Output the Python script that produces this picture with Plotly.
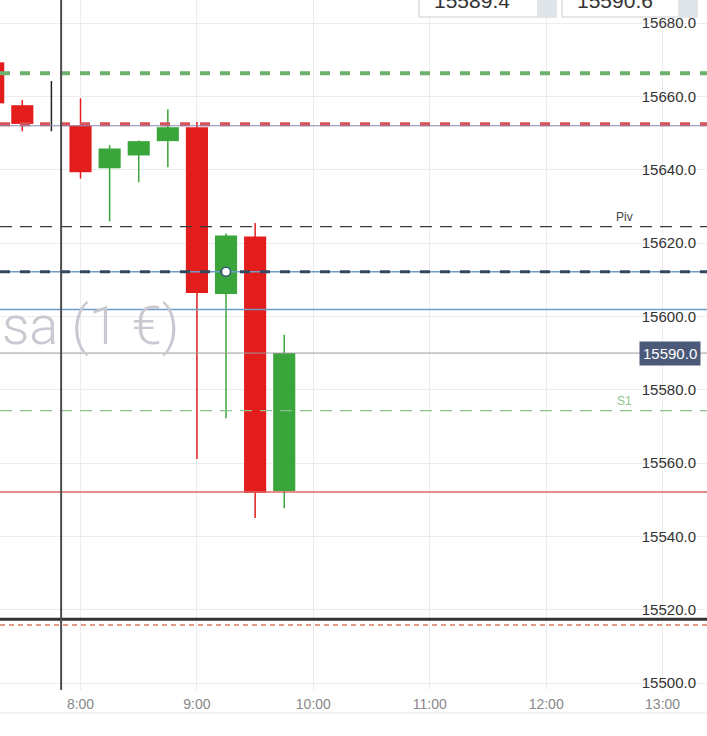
import plotly.graph_objects as go
import pandas as pd

# ---------------- data ----------------
day = "2021-07-20 "
candle_times = ["07:15", "07:30", "07:45", "08:00", "08:15", "08:30", "08:45",
                "09:00", "09:15", "09:30", "09:45"]
opens  = [15669.3, 15657.6, 15652.1, 15652.1, 15640.4, 15643.9, 15647.8, 15651.6, 15606.1, 15621.8, 15552.4]
closes = [15658.1, 15652.5, 15652.1, 15639.3, 15645.8, 15647.8, 15651.6, 15606.4, 15622.1, 15551.8, 15590.0]
highs  = [15672.0, 15659.0, 15664.2, 15659.5, 15646.7, 15648.0, 15656.5, 15653.0, 15622.6, 15625.5, 15595.0]
lows   = [15656.0, 15650.5, 15650.5, 15637.6, 15625.9, 15636.6, 15640.7, 15561.1, 15572.2, 15545.0, 15547.7]

level_names  = ["r_green", "r_red", "r_thin", "piv", "blue_a", "navy", "blue_b", "last",
                "s1", "red_solid", "black", "orange"]
level_values = [15666.3, 15652.4, 15652.0, 15624.5, 15612.2, 15612.2, 15601.9, 15590.0,
                15574.3, 15552.1, 15517.4, 15515.8]
level_labels = {"piv": "Piv", "s1": "S1"}

marker_time = "09:15"
marker_value = 15612.2
crosshair_time = "07:50"
last_price_text = "15590.0"
box_values = ["15589.4", "15590.6"]
watermark = "sa (1 €)"

x_range = ["07:18:30", "13:22:54"]
y_range = [15498.1, 15686.3]

# ---------------- styles ----------------
RED = "#e31c1c"
GREEN = "#3aa53a"
level_styles = {
    "r_green":   dict(color="#6cb26c", width=4, dash="10px,10px"),
    "r_red":     dict(color="#d9525a", width=4, dash="10px,10px"),
    "r_thin":    dict(color="#8c88b0", width=1, dash="solid"),
    "piv":       dict(color="#3a3a3a", width=1.2, dash="12px,8px"),
    "blue_a":    dict(color="#6e9cc6", width=1.5, dash="solid"),
    "navy":      dict(color="#34495e", width=3, dash="10px,10px"),
    "blue_b":    dict(color="#6e9cc6", width=1.5, dash="solid"),
    "last":      dict(color="#9a9a9a", width=1, dash="solid"),
    "s1":        dict(color="#8cc48c", width=1.2, dash="12px,8px"),
    "red_solid": dict(color="#e06464", width=1.5, dash="solid"),
    "black":     dict(color="#333333", width=3, dash="solid"),
    "orange":    dict(color="#d97b5e", width=1.5, dash="5px,4px"),
}

W, H = 707, 736
PLOT_H = 690
def py(p):  # pixel y -> paper y
    return (PLOT_H - p) / PLOT_H
def px(p):
    return p / W

ts = pd.to_datetime([day + t for t in candle_times])
cols = [GREEN if c > o else (RED if c < o else "#222222") for o, c in zip(opens, closes)]

fig = go.Figure()

# wicks
for colr in [RED, GREEN, "#222222"]:
    xs, ys = [], []
    for t, h, l, c in zip(ts, highs, lows, cols):
        if c == colr:
            xs += [t, t, None]
            ys += [h, l, None]
    if xs:
        fig.add_trace(go.Scatter(x=xs, y=ys, mode="lines",
                                 line=dict(color=colr, width=1.5),
                                 hoverinfo="skip", showlegend=False))

# bodies
fig.add_trace(go.Bar(
    x=ts,
    y=[abs(c - o) for o, c in zip(opens, closes)],
    base=[min(o, c) for o, c in zip(opens, closes)],
    width=[0.76 * 15 * 60 * 1000] * len(ts),
    marker=dict(color=cols, line=dict(width=0)),
    showlegend=False,
))

shapes = []
for n, v in zip(level_names, level_values):
    st = level_styles[n]
    shapes.append(dict(type="line", xref="paper", x0=0, x1=1, yref="y", y0=v, y1=v,
                       line=dict(color=st["color"], width=st["width"], dash=st["dash"]),
                       layer="above"))

# crosshair
shapes.append(dict(type="line", xref="x", x0=pd.Timestamp(day + crosshair_time),
                   x1=pd.Timestamp(day + crosshair_time), yref="paper", y0=0, y1=1,
                   line=dict(color="#4d4d4d", width=2)))

# marker circle on the level line (drawn above the lines)
shapes.append(dict(type="circle", xref="x", yref="y",
                   xsizemode="pixel", ysizemode="pixel",
                   xanchor=pd.Timestamp(day + marker_time), yanchor=marker_value,
                   x0=-4.5, x1=4.5, y0=-4.5, y1=4.5,
                   fillcolor="white", line=dict(color="#3d5a7a", width=1.5), layer="above"))

# bottom border line under x labels
shapes.append(dict(type="line", xref="paper", x0=0, x1=1, yref="paper", y0=py(713), y1=py(713),
                   line=dict(color="#e6e6e6", width=1)))

# top input boxes
for bx in [(419, 556), (562, 697)]:
    shapes.append(dict(type="rect", xref="paper", yref="paper",
                       x0=px(bx[0]), x1=px(bx[1]), y0=py(17), y1=py(-10),
                       fillcolor="white", line=dict(color="#c9cdd2", width=1)))
    shapes.append(dict(type="rect", xref="paper", yref="paper",
                       x0=px(bx[1] - 19), x1=px(bx[1]), y0=py(16.5), y1=py(-10),
                       fillcolor="#dfe4e8", line=dict(width=0)))

annotations = []
for n, v in zip(level_names, level_values):
    if n in level_labels:
        annotations.append(dict(x=px(624), xref="paper", xanchor="center", y=v, yref="y",
                                yanchor="bottom", yshift=1, text=level_labels[n], showarrow=False,
                                font=dict(size=12, color=level_styles[n]["color"] if n == "s1" else "#444",
                                          family="Liberation Sans")))

annotations.append(dict(x=px(670), xref="paper", xanchor="center",
                        y=level_values[level_names.index("last")], yref="y", yanchor="middle",
                        text=last_price_text, showarrow=False, bgcolor="#4a5a78",
                        borderpad=3, font=dict(size=15, color="white", family="Liberation Sans")))

for bx, val in zip([432, 575], box_values):
    annotations.append(dict(x=px(bx), xref="paper", xanchor="left", y=py(0), yref="paper",
                            yanchor="middle", text=val, showarrow=False,
                            font=dict(size=21, color="#333", family="Liberation Sans")))

annotations.append(dict(x=0, xref="paper", xanchor="left", y=py(325), yref="paper",
                        yanchor="middle", text=watermark, showarrow=False,
                        font=dict(size=54, color="#c8c9d1", family="Roboto", weight=300)))

fig.update_layout(
    width=W, height=H,
    margin=dict(l=0, r=0, t=0, b=H - PLOT_H),
    paper_bgcolor="white", plot_bgcolor="white",
    barmode="overlay",
    shapes=shapes, annotations=annotations,
    showlegend=False,
    xaxis=dict(range=[pd.Timestamp(day + x_range[0]), pd.Timestamp(day + x_range[1])],
               type="date", tickformat="%-H:%M", dtick=3600000,
               tick0=pd.Timestamp(day + "08:00"),
               showgrid=True, gridcolor="#ececec", gridwidth=1,
               zeroline=False, showline=False, ticks="",
               ticklabeloverflow="allow", ticklabelstandoff=4,
               tickfont=dict(size=14, color="#888", family="Liberation Sans"),
               fixedrange=True),
    yaxis=dict(range=y_range, side="right", ticklabelposition="inside", dtick=20,
               tick0=15500, tickformat=".1f", ticklabelstandoff=8,
               ticklabeloverflow="allow",
               showgrid=True, gridcolor="#ececec", gridwidth=1,
               zeroline=False, showline=False, ticks="",
               tickfont=dict(size=15, color="#333", family="Liberation Sans")),
)

fig.write_html("out.html", config={"displayModeBar": False},
               post_script="document.body.style.margin='0';document.body.style.overflow='hidden';")
